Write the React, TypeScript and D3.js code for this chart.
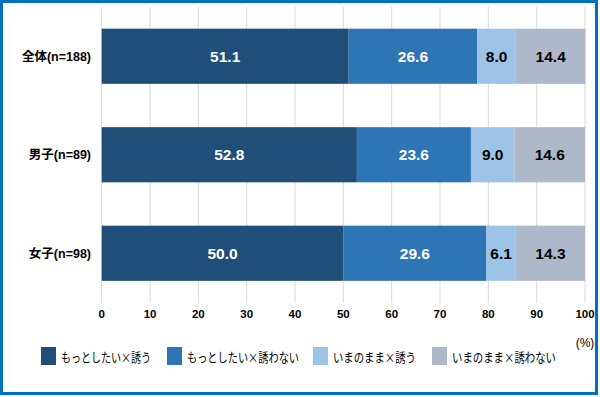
import React from "react";
import * as d3 from "d3";

const categories = ["全体(n=188)", "男子(n=89)", "女子(n=98)"];
const seriesNames = ["もっとしたい×誘う", "もっとしたい×誘わない", "いまのまま×誘う", "いまのまま×誘わない"];
const s1 = [51.1, 52.8, 50.0];
const s2 = [26.6, 23.6, 29.6];
const s3 = [8.0, 9.0, 6.1];
const s4 = [14.4, 14.6, 14.3];
const xTicks = [0, 10, 20, 30, 40, 50, 60, 70, 80, 90, 100];
const colors = ["#1F4E79", "#2E75B6", "#9DC3E6", "#ADB9CA"];
const labelColors = ["#ffffff", "#ffffff", "#000000", "#000000"];

const W = 600, H = 397;
const FONT = "'Liberation Sans', Arial, 'Noto Sans CJK JP', sans-serif";
const JP = "'Noto Sans CJK JP', sans-serif";

export default function App() {
  const series = [s1, s2, s3, s4];
  const x = d3.scaleLinear().domain([0, 100]).range([101.7, 585]);
  const y = d3.scaleBand<string>().domain(categories).range([7, 302.5]).paddingInner(0.44).paddingOuter(0.22);
  const stacked = categories.map((c, i) => {
    let acc = 0;
    return series.map((s, k) => {
      const start = acc;
      acc += s[i];
      return { k, start, end: acc, v: s[i] };
    });
  });
  const legendX = [41, 167, 313, 432];
  const legendTextW = [90, 112, 83, 104];
  return (
    <svg width={W} height={H} style={{ position: "absolute", left: 0, top: 0, fontFamily: FONT }}>
      <rect x={0} y={0} width={W} height={H} fill="#fff" />
      {xTicks.map((t) => (
        <line key={t} x1={x(t)} x2={x(t)} y1={7} y2={303} stroke="#D9D9D9" strokeWidth={1} />
      ))}
      {categories.map((c, i) => (
        <g key={c}>
          {stacked[i].map((seg) => (
            <g key={seg.k}>
              <rect x={x(seg.start)} y={y(c)} width={x(seg.end) - x(seg.start)} height={y.bandwidth()} fill={colors[seg.k]} />
              <text x={(x(seg.start) + x(seg.end)) / 2} y={y(c)! + y.bandwidth() / 2} dy="0.36em" textAnchor="middle"
                fontSize={15.5} fontWeight="bold" fill={labelColors[seg.k]}>{seg.v.toFixed(1)}</text>
            </g>
          ))}
          <text x={91} y={y(c)! + y.bandwidth() / 2} dy="0.36em" textAnchor="end" fontSize={12.5} fontWeight="bold" fill="#000">{c}</text>
        </g>
      ))}
      {xTicks.map((t) => (
        <text key={t} x={x(t)} y={314} dy="0.36em" textAnchor="middle" fontSize={11.5} fontWeight="bold" fill="#000">{t}</text>
      ))}
      <text x={585} y={343} dy="0.36em" textAnchor="middle" fontSize={12} fill="#000">(%)</text>
      {seriesNames.map((n, k) => (
        <g key={n}>
          <rect x={legendX[k]} y={347} width={15} height={18} fill={colors[k]} />
          <text x={legendX[k] + 20} y={357} dy="0.36em" fontSize={13} fontFamily={JP} fill="#000"
            textLength={legendTextW[k]} lengthAdjust="spacingAndGlyphs">{n}</text>
        </g>
      ))}
      <rect x={1.5} y={1.5} width={595} height={392} fill="none" stroke="#0070C0" strokeWidth={3} />
    </svg>
  );
}
